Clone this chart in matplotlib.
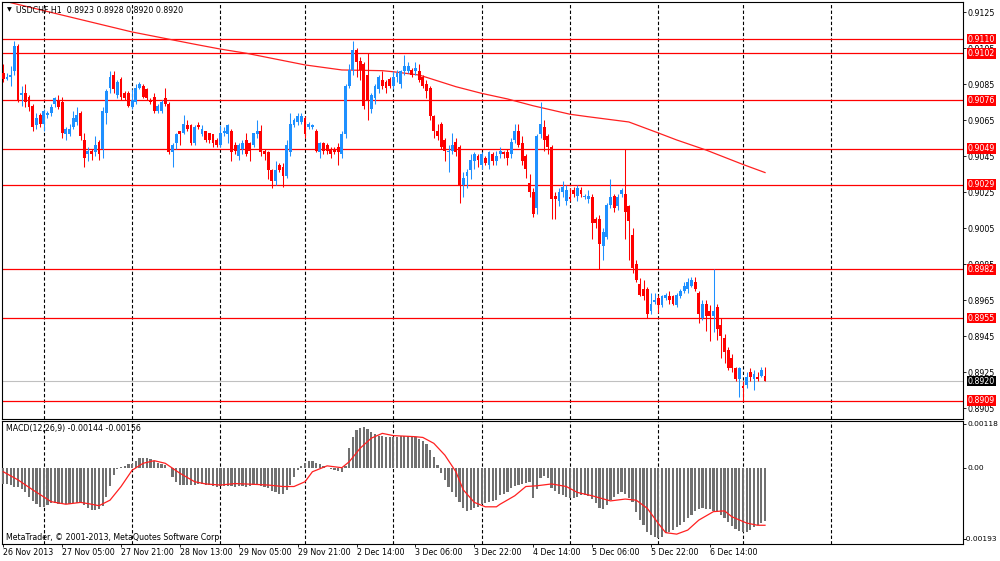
import matplotlib
matplotlib.use("Agg")
import matplotlib.pyplot as plt
import matplotlib.transforms as mtransforms

plt.rcParams['font.family'] = ['DejaVu Sans']
FS = 5.7

# USDCHF H1 bars, oldest first
OPEN = [0.9091, 0.9088, 0.9089, 0.9092, 0.9106, 0.9079, 0.9080, 0.9078, 0.9073, 0.9062,
        0.9068, 0.9063, 0.9068, 0.9069, 0.9074, 0.9076, 0.9075, 0.9057, 0.9057, 0.9061,
        0.9064, 0.9069, 0.9054, 0.9046, 0.9048, 0.9047, 0.9053, 0.9049, 0.9069, 0.9083,
        0.9090, 0.9079, 0.9088, 0.9080, 0.9080, 0.9072, 0.9075, 0.9083, 0.9084, 0.9082,
        0.9076, 0.9078, 0.9070, 0.9070, 0.9077, 0.9074, 0.9047, 0.9052, 0.9059, 0.9058,
        0.9062, 0.9062, 0.9052, 0.9062, 0.9057, 0.9059, 0.9058, 0.9057, 0.9054, 0.9051,
        0.9058, 0.9057, 0.9059, 0.9051, 0.9045, 0.9049, 0.9054, 0.9052, 0.9051, 0.9057,
        0.9059, 0.9048, 0.9047, 0.9037, 0.9031, 0.9040, 0.9039, 0.9034, 0.9047, 0.9062,
        0.9064, 0.9064, 0.9066, 0.9061, 0.9061, 0.9059, 0.9047, 0.9052, 0.9051, 0.9049,
        0.9049, 0.9050, 0.9046, 0.9057, 0.9084, 0.9093, 0.9104, 0.9098, 0.9096, 0.9090,
        0.9071, 0.9077, 0.9082, 0.9087, 0.9086, 0.9088, 0.9084, 0.9089, 0.9085, 0.9092,
        0.9092, 0.9093, 0.9092, 0.9092, 0.9089, 0.9085, 0.9083, 0.9067, 0.9059, 0.9063,
        0.9054, 0.9047, 0.9048, 0.9053, 0.9050, 0.9029, 0.9034, 0.9037, 0.9042, 0.9045,
        0.9040, 0.9044, 0.9040, 0.9046, 0.9042, 0.9046, 0.9047, 0.9047, 0.9046, 0.9054,
        0.9059, 0.9052, 0.9045, 0.9030, 0.9025, 0.9016, 0.9057, 0.9061, 0.9056, 0.9050,
        0.9023, 0.9020, 0.9025, 0.9020, 0.9022, 0.9026, 0.9023, 0.9026, 0.9022, 0.9021,
        0.9022, 0.9010, 0.9010, 0.8995, 0.9000, 0.9018, 0.9023, 0.9017, 0.9024, 0.9024,
        0.9017, 0.9001, 0.8985, 0.8974, 0.8971, 0.8971, 0.8959, 0.8964, 0.8966, 0.8962,
        0.8966, 0.8967, 0.8967, 0.8962, 0.8967, 0.8970, 0.8971, 0.8973, 0.8975, 0.8969,
        0.8955, 0.8963, 0.8959, 0.8956, 0.8961, 0.8951, 0.8944, 0.8937, 0.8933, 0.8927,
        0.8921, 0.8917, 0.8918, 0.8925, 0.8921, 0.8922, 0.8923, 0.8923]
HIGH = [0.9096, 0.9091, 0.9095, 0.9109, 0.9107, 0.9084, 0.9085, 0.9079, 0.9074, 0.9069,
        0.9069, 0.9071, 0.9070, 0.9074, 0.9078, 0.9079, 0.9078, 0.9061, 0.9063, 0.9070,
        0.9072, 0.9070, 0.9058, 0.9050, 0.9049, 0.9056, 0.9054, 0.9072, 0.9082, 0.9092,
        0.9092, 0.9087, 0.9089, 0.9081, 0.9081, 0.9082, 0.9085, 0.9086, 0.9085, 0.9083,
        0.9077, 0.9080, 0.9074, 0.9076, 0.9083, 0.9075, 0.9052, 0.9058, 0.9059, 0.9068,
        0.9065, 0.9063, 0.9062, 0.9064, 0.9062, 0.9059, 0.9058, 0.9057, 0.9055, 0.9062,
        0.9061, 0.9063, 0.9060, 0.9053, 0.9052, 0.9054, 0.9058, 0.9053, 0.9058, 0.9065,
        0.9062, 0.9049, 0.9048, 0.9038, 0.9042, 0.9041, 0.9041, 0.9054, 0.9069, 0.9066,
        0.9069, 0.9069, 0.9067, 0.9064, 0.9063, 0.9060, 0.9053, 0.9053, 0.9052, 0.9050,
        0.9050, 0.9052, 0.9059, 0.9085, 0.9096, 0.9109, 0.9105, 0.9100, 0.9097, 0.9102,
        0.9080, 0.9085, 0.9090, 0.9092, 0.9087, 0.9089, 0.9092, 0.9093, 0.9093, 0.9101,
        0.9097, 0.9094, 0.9097, 0.9096, 0.9090, 0.9087, 0.9084, 0.9068, 0.9063, 0.9064,
        0.9055, 0.9051, 0.9058, 0.9055, 0.9051, 0.9036, 0.9038, 0.9046, 0.9047, 0.9046,
        0.9047, 0.9045, 0.9048, 0.9047, 0.9048, 0.9050, 0.9048, 0.9049, 0.9055, 0.9063,
        0.9063, 0.9056, 0.9046, 0.9035, 0.9027, 0.9057, 0.9075, 0.9065, 0.9057, 0.9051,
        0.9025, 0.9027, 0.9031, 0.9029, 0.9027, 0.9028, 0.9029, 0.9028, 0.9024, 0.9026,
        0.9024, 0.9011, 0.9012, 0.9005, 0.9019, 0.9032, 0.9024, 0.9024, 0.9027, 0.9049,
        0.9018, 0.9005, 0.8987, 0.8977, 0.8976, 0.8972, 0.8969, 0.8969, 0.8968, 0.8968,
        0.8969, 0.8970, 0.8968, 0.8969, 0.8971, 0.8975, 0.8977, 0.8978, 0.8978, 0.8970,
        0.8965, 0.8965, 0.8962, 0.8982, 0.8963, 0.8955, 0.8946, 0.8939, 0.8935, 0.8928,
        0.8928, 0.8920, 0.8925, 0.8927, 0.8926, 0.8925, 0.8928, 0.8928]
LOW = [0.9086, 0.9087, 0.9084, 0.9090, 0.9075, 0.9073, 0.9072, 0.9070, 0.9059, 0.9060,
       0.9061, 0.9059, 0.9066, 0.9067, 0.9072, 0.9071, 0.9055, 0.9054, 0.9056, 0.9060,
       0.9062, 0.9054, 0.9039, 0.9042, 0.9043, 0.9045, 0.9043, 0.9044, 0.9063, 0.9080,
       0.9080, 0.9077, 0.9076, 0.9076, 0.9072, 0.9071, 0.9074, 0.9082, 0.9077, 0.9076,
       0.9074, 0.9069, 0.9069, 0.9069, 0.9073, 0.9046, 0.9039, 0.9049, 0.9051, 0.9057,
       0.9059, 0.9051, 0.9051, 0.9060, 0.9056, 0.9053, 0.9052, 0.9050, 0.9050, 0.9050,
       0.9056, 0.9052, 0.9042, 0.9046, 0.9043, 0.9046, 0.9045, 0.9042, 0.9050, 0.9055,
       0.9045, 0.9043, 0.9032, 0.9027, 0.9029, 0.9036, 0.9028, 0.9033, 0.9045, 0.9061,
       0.9062, 0.9063, 0.9055, 0.9060, 0.9060, 0.9047, 0.9044, 0.9046, 0.9046, 0.9044,
       0.9046, 0.9040, 0.9044, 0.9055, 0.9083, 0.9090, 0.9089, 0.9087, 0.9071, 0.9065,
       0.9069, 0.9074, 0.9080, 0.9082, 0.9080, 0.9083, 0.9082, 0.9086, 0.9083, 0.9090,
       0.9091, 0.9089, 0.9090, 0.9086, 0.9083, 0.9077, 0.9065, 0.9055, 0.9054, 0.9049,
       0.9042, 0.9036, 0.9046, 0.9045, 0.9019, 0.9022, 0.9027, 0.9032, 0.9038, 0.9039,
       0.9038, 0.9040, 0.9038, 0.9040, 0.9040, 0.9044, 0.9044, 0.9040, 0.9044, 0.9052,
       0.9050, 0.9040, 0.9033, 0.9022, 0.9011, 0.9013, 0.9055, 0.9048, 0.9046, 0.9010,
       0.9010, 0.9017, 0.9022, 0.9018, 0.9020, 0.9022, 0.9020, 0.9022, 0.9021, 0.9019,
       0.8999, 0.9005, 0.8982, 0.8987, 0.8999, 0.9016, 0.9014, 0.9015, 0.9022, 0.8999,
       0.8987, 0.8980, 0.8975, 0.8967, 0.8965, 0.8955, 0.8957, 0.8963, 0.8958, 0.8961,
       0.8965, 0.8963, 0.8962, 0.8961, 0.8966, 0.8969, 0.8969, 0.8972, 0.8970, 0.8952,
       0.8954, 0.8948, 0.8942, 0.8947, 0.8943, 0.8933, 0.8930, 0.8926, 0.8925, 0.8920,
       0.8911, 0.8909, 0.8916, 0.8920, 0.8915, 0.8920, 0.8922, 0.8920]
CLOSE = [0.9088, 0.9089, 0.9090, 0.9106, 0.9076, 0.9080, 0.9075, 0.9072, 0.9061, 0.9066,
         0.9063, 0.9070, 0.9069, 0.9072, 0.9077, 0.9072, 0.9058, 0.9060, 0.9060, 0.9066,
         0.9068, 0.9056, 0.9044, 0.9048, 0.9046, 0.9051, 0.9046, 0.9070, 0.9081, 0.9089,
         0.9082, 0.9086, 0.9078, 0.9077, 0.9073, 0.9076, 0.9083, 0.9085, 0.9078, 0.9077,
         0.9075, 0.9070, 0.9073, 0.9075, 0.9074, 0.9047, 0.9051, 0.9057, 0.9057, 0.9063,
         0.9060, 0.9052, 0.9061, 0.9061, 0.9060, 0.9054, 0.9054, 0.9052, 0.9051, 0.9058,
         0.9059, 0.9062, 0.9047, 0.9048, 0.9051, 0.9052, 0.9046, 0.9048, 0.9058, 0.9059,
         0.9047, 0.9046, 0.9037, 0.9031, 0.9037, 0.9037, 0.9034, 0.9051, 0.9063, 0.9065,
         0.9067, 0.9067, 0.9057, 0.9063, 0.9062, 0.9048, 0.9052, 0.9048, 0.9048, 0.9046,
         0.9047, 0.9047, 0.9057, 0.9084, 0.9093, 0.9104, 0.9097, 0.9093, 0.9073, 0.9076,
         0.9079, 0.9084, 0.9089, 0.9084, 0.9083, 0.9084, 0.9089, 0.9091, 0.9092, 0.9095,
         0.9095, 0.9090, 0.9094, 0.9087, 0.9084, 0.9081, 0.9067, 0.9059, 0.9056, 0.9050,
         0.9048, 0.9048, 0.9051, 0.9047, 0.9029, 0.9033, 0.9036, 0.9043, 0.9046, 0.9043,
         0.9046, 0.9041, 0.9047, 0.9042, 0.9045, 0.9048, 0.9046, 0.9044, 0.9053, 0.9059,
         0.9051, 0.9042, 0.9038, 0.9025, 0.9013, 0.9056, 0.9063, 0.9054, 0.9050, 0.9021,
         0.9021, 0.9025, 0.9028, 0.9026, 0.9021, 0.9024, 0.9027, 0.9024, 0.9023, 0.9023,
         0.9008, 0.9008, 0.8996, 0.9003, 0.9018, 0.9022, 0.9016, 0.9022, 0.9026, 0.9014,
         0.9009, 0.8983, 0.8976, 0.8968, 0.8967, 0.8957, 0.8963, 0.8965, 0.8962, 0.8967,
         0.8968, 0.8965, 0.8963, 0.8968, 0.8970, 0.8973, 0.8975, 0.8976, 0.8971, 0.8957,
         0.8963, 0.8956, 0.8956, 0.8959, 0.8949, 0.8945, 0.8936, 0.8927, 0.8927, 0.8921,
         0.8927, 0.8916, 0.8922, 0.8922, 0.8924, 0.8921, 0.8926, 0.8920]

# moving average (red curve), sampled at these bars
MA_BARS = [0, 2, 35, 52, 59, 66, 82, 92, 103, 106, 113, 123, 130, 137, 144, 154, 159,
           170, 178, 183, 191, 201, 207]
MA_VALUES = [0.91317, 0.91302, 0.91139, 0.91071, 0.91044, 0.91021, 0.90956, 0.90928,
             0.90924, 0.90918, 0.90900, 0.90835, 0.90798, 0.90767, 0.90729, 0.90682,
             0.90668, 0.90639, 0.90578, 0.90539, 0.90483, 0.90403, 0.90358]

# MACD(12,26,9) main line (histogram), one value per bar
MACD_MAIN = [-0.00044, -0.00044, -0.00047, -0.00051, -0.00051, -0.00058, -0.00065, -0.00079, -0.00090, -0.00099,
             -0.00106, -0.00106, -0.00101, -0.00095, -0.00097, -0.00099, -0.00099, -0.00099, -0.00098, -0.00097,
             -0.00096, -0.00095, -0.00101, -0.00110, -0.00115, -0.00115, -0.00112, -0.00104, -0.00079, -0.00050,
             -0.00020, -0.00004, 0.00002, 0.00005, 0.00009, 0.00010, 0.00018, 0.00025, 0.00027, 0.00026,
             0.00024, 0.00018, 0.00014, 0.00011, 0.00007, -0.00002, -0.00024, -0.00040, -0.00047, -0.00047,
             -0.00047, -0.00047, -0.00047, -0.00045, -0.00045, -0.00047, -0.00047, -0.00049, -0.00051, -0.00049,
             -0.00049, -0.00049, -0.00049, -0.00051, -0.00049, -0.00049, -0.00051, -0.00049, -0.00047, -0.00047,
             -0.00049, -0.00051, -0.00054, -0.00063, -0.00067, -0.00070, -0.00070, -0.00060, -0.00047, -0.00024,
             -0.00007, 0.00005, 0.00012, 0.00018, 0.00019, 0.00014, 0.00009, 0.00005, -0.00001, -0.00004,
             -0.00007, -0.00010, -0.00011, 0.00005, 0.00053, 0.00082, 0.00101, 0.00108, 0.00111, 0.00105,
             0.00098, 0.00090, 0.00087, 0.00085, 0.00084, 0.00084, 0.00083, 0.00083, 0.00085, 0.00086,
             0.00086, 0.00085, 0.00083, 0.00079, 0.00073, 0.00063, 0.00048, 0.00030, 0.00007, -0.00015,
             -0.00033, -0.00051, -0.00067, -0.00079, -0.00092, -0.00110, -0.00117, -0.00115, -0.00110, -0.00106,
             -0.00099, -0.00095, -0.00092, -0.00090, -0.00088, -0.00074, -0.00072, -0.00067, -0.00054, -0.00049,
             -0.00047, -0.00044, -0.00042, -0.00040, -0.00083, -0.00058, -0.00029, -0.00022, -0.00029, -0.00054,
             -0.00063, -0.00070, -0.00074, -0.00079, -0.00083, -0.00081, -0.00079, -0.00074, -0.00074, -0.00076,
             -0.00086, -0.00097, -0.00108, -0.00112, -0.00101, -0.00088, -0.00079, -0.00072, -0.00067, -0.00072,
             -0.00083, -0.00092, -0.00119, -0.00142, -0.00155, -0.00173, -0.00182, -0.00187, -0.00191, -0.00187,
             -0.00178, -0.00173, -0.00169, -0.00162, -0.00155, -0.00148, -0.00137, -0.00128, -0.00117, -0.00112,
             -0.00110, -0.00111, -0.00113, -0.00117, -0.00121, -0.00128, -0.00137, -0.00148, -0.00157, -0.00166,
             -0.00171, -0.00175, -0.00175, -0.00168, -0.00162, -0.00156, -0.00150, -0.00144]

# MACD signal line, sampled at these bars
SIGNAL_BARS = [0, 4, 8, 13, 17, 21, 24, 26, 29, 32, 35, 38, 41, 44, 48, 52, 55, 59, 63, 68,
               72, 76, 79, 82, 84, 88, 92, 94, 97, 100, 103, 106, 112, 114, 117, 120, 123,
               125, 128, 131, 134, 135, 139, 142, 145, 149, 153, 156, 160, 165, 169, 172,
               175, 178, 180, 183, 186, 189, 193, 196, 198, 202, 205, 207]
SIGNAL = [-0.00011, -0.00033, -0.00060, -0.00092, -0.00099, -0.00094, -0.00099, -0.00103,
          -0.00088, -0.00051, -0.00007, 0.00012, 0.00019, 0.00012, -0.00015, -0.00038,
          -0.00044, -0.00047, -0.00043, -0.00045, -0.00047, -0.00051, -0.00051, -0.00038,
          -0.00011, 0.00005, 0.00000, 0.00016, 0.00053, 0.00080, 0.00093, 0.00087, 0.00084,
          0.00082, 0.00066, 0.00034, -0.00011, -0.00060, -0.00094, -0.00106, -0.00106,
          -0.00099, -0.00076, -0.00051, -0.00049, -0.00044, -0.00051, -0.00067, -0.00076,
          -0.00090, -0.00085, -0.00088, -0.00110, -0.00151, -0.00176, -0.00180, -0.00169,
          -0.00142, -0.00119, -0.00117, -0.00133, -0.00150, -0.00156, -0.00156]

LEVELS = [0.9110, 0.9102, 0.9076, 0.9049, 0.9029, 0.8982, 0.8955, 0.8909]
BID = 0.8920
PRICE_TICKS = [0.9125, 0.9105, 0.9085, 0.9065, 0.9045, 0.9025, 0.9005, 0.8985, 0.8965,
               0.8945, 0.8925, 0.8905]
MACD_TICKS = [0.00118, 0.0, -0.00193]
MACD_TICK_LABELS = ["0.00118", "0.00", "-0.00193"]
TIME_LABELS = ["26 Nov 2013", "27 Nov 05:00", "27 Nov 21:00", "28 Nov 13:00", "29 Nov 05:00",
               "29 Nov 21:00", "2 Dec 14:00", "3 Dec 06:00", "3 Dec 22:00", "4 Dec 14:00",
               "5 Dec 06:00", "5 Dec 22:00", "6 Dec 14:00"]
LABEL_BARS = [16 * k for k in range(len(TIME_LABELS))]
DAY_START_BARS = [11, 35, 59, 82, 106, 130, 154, 178, 201, 225]

BULL = '#1E90FF'
BEAR = '#FF0000'
W, H = 1000, 561


def px_box(left, top, right, bottom):
    # figure rect from pixel edges (origin top-left)
    return [left / W, 1 - bottom / H, (right - left) / W, (bottom - top) / H]


fig = plt.figure(figsize=(W / 100, H / 100), dpi=100)
fig.patch.set_facecolor('white')
ax = fig.add_axes(px_box(2, 1.5, 963, 418.5))
axm = fig.add_axes(px_box(2, 420.5, 963, 543.5))

x_lo, x_hi = -0.35, 260.8
for a in (ax, axm):
    a.set_xlim(x_lo, x_hi)
    for s in a.spines.values():
        s.set_linewidth(0.8)
        s.set_color('black')
    for b in DAY_START_BARS:
        a.axvline(b, color='black', lw=0.8, ls=(0, (3, 2)), zorder=1)

# ---- price panel ----
ax.set_ylim(0.9125 - 406.5 / 18000, 0.9125 + 10.5 / 18000)
n = len(OPEN)
xs = list(range(n))
cols = [BULL if c >= o else BEAR for o, c in zip(OPEN, CLOSE)]
bottoms = [min(o, c) for o, c in zip(OPEN, CLOSE)]
heights = [max(abs(c - o), 0.00004) for o, c in zip(OPEN, CLOSE)]

for lv in LEVELS:
    ax.axhline(lv, color='#FF0000', lw=0.9, zorder=2)
ax.axhline(BID, color='#C0C0C0', lw=0.8, zorder=2)
ax.plot(MA_BARS, MA_VALUES, color='#FF2020', lw=0.9, zorder=2)

ax.vlines(xs, LOW, HIGH, colors=cols, lw=0.75, zorder=3)
ax.bar(xs, heights, bottom=bottoms, width=0.78, color=cols, linewidth=0, zorder=4)

ax.set_xticks([])
ax.yaxis.tick_right()
ax.set_yticks(PRICE_TICKS)
ax.set_yticklabels([f"{p:.4f}" for p in PRICE_TICKS])
ax.tick_params(axis='y', direction='out', length=2.2, width=0.6, pad=1.2, labelsize=FS)

trans = mtransforms.blended_transform_factory(ax.transAxes, ax.transData)
for lv in LEVELS:
    ax.annotate(f"{lv:.4f}", xy=(1, lv), xycoords=trans, xytext=(5, 0),
                textcoords='offset pixels', va='center', ha='left', fontsize=FS,
                color='white', zorder=10, annotation_clip=False,
                bbox=dict(boxstyle='square,pad=0.12', fc='#FF0000', ec='none'))
ax.annotate(f"{BID:.4f}", xy=(1, BID), xycoords=trans, xytext=(5, 0),
            textcoords='offset pixels', va='center', ha='left', fontsize=FS,
            color='white', zorder=10, annotation_clip=False,
            bbox=dict(boxstyle='square,pad=0.12', fc='black', ec='none'))

# ---- MACD panel ----
axm.set_ylim(-0.002054, 0.001279)
axm.bar(xs, MACD_MAIN, width=0.6, color='#707070', linewidth=0, zorder=3)
axm.plot(SIGNAL_BARS, SIGNAL, color='#FF2020', lw=0.9, zorder=4)

axm.yaxis.tick_right()
axm.set_yticks(MACD_TICKS)
axm.set_yticklabels([])
axm.tick_params(axis='y', direction='out', length=2.2, width=0.6)
mtrans = mtransforms.blended_transform_factory(axm.transAxes, axm.transData)
for v, lab in zip(MACD_TICKS, MACD_TICK_LABELS):
    # the long negative label sits a bit further left, as in MT4
    dx = 1 if lab.startswith('-') else 4
    axm.annotate(lab, xy=(1, v), xycoords=mtrans, xytext=(dx, 0),
                 textcoords='offset pixels', va='center', ha='left', fontsize=5.4,
                 annotation_clip=False)

axm.set_xticks(LABEL_BARS)
axm.set_xticklabels(TIME_LABELS)
axm.tick_params(axis='x', direction='out', length=2.2, width=0.6, pad=1.0, labelsize=FS)
for lbl in axm.get_xticklabels():
    lbl.set_ha('left')

# ---- header texts ----
fig.text(7 / W, 1 - 10 / H, "\u25bc", fontsize=4.5, va='center', ha='left')
fig.text(16.5 / W, 1 - 10 / H, "USDCHF,H1  0.8923 0.8928 0.8920 0.8920",
         fontsize=FS, va='center', ha='left')
fig.text(6 / W, 1 - 428.5 / H, "MACD(12,26,9) -0.00144 -0.00156",
         fontsize=FS, va='center', ha='left')
fig.text(6 / W, 1 - 538 / H, "MetaTrader, \u00a9 2001-2013, MetaQuotes Software Corp.",
         fontsize=FS, va='center', ha='left')

fig.savefig("out.png", dpi=100, facecolor='white')
